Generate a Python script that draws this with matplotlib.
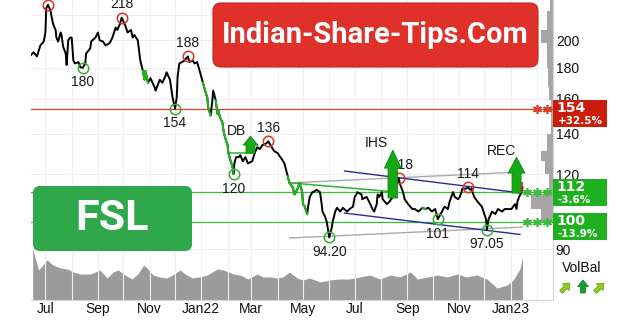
import matplotlib.pyplot as plt
import matplotlib.transforms as mtransforms
from matplotlib.patches import FancyBboxPatch, FancyArrow, Rectangle
from matplotlib.ticker import NullLocator
import pandas as pd

plt.rcParams['font.family'] = ['Liberation Sans', 'DejaVu Sans']

W, H = 640, 324

# ---- price trace ----
dates = [
    "2021-06-14", "2021-06-17", "2021-06-21", "2021-06-25", "2021-06-29", "2021-07-01", "2021-07-02", "2021-07-04",
    "2021-07-07", "2021-07-08", "2021-07-10", "2021-07-13", "2021-07-14", "2021-07-16", "2021-07-19", "2021-07-20",
    "2021-07-22", "2021-07-25", "2021-07-26", "2021-07-28", "2021-07-30", "2021-08-01", "2021-08-03", "2021-08-05",
    "2021-08-09", "2021-08-11", "2021-08-14", "2021-08-17", "2021-08-18", "2021-08-23", "2021-08-24", "2021-08-29",
    "2021-09-01", "2021-09-03", "2021-09-07", "2021-09-10", "2021-09-15", "2021-09-18", "2021-09-22", "2021-09-24",
    "2021-09-27", "2021-09-29", "2021-10-03", "2021-10-06", "2021-10-10", "2021-10-12", "2021-10-14", "2021-10-18",
    "2021-10-21", "2021-10-24", "2021-10-26", "2021-10-27", "2021-10-30", "2021-11-02", "2021-11-07", "2021-11-08",
    "2021-11-13", "2021-11-16", "2021-11-20", "2021-11-21", "2021-11-25", "2021-11-28", "2021-12-01", "2021-12-03",
    "2021-12-04", "2021-12-06", "2021-12-09", "2021-12-12", "2021-12-16", "2021-12-18", "2021-12-22", "2021-12-24",
    "2021-12-27", "2021-12-30", "2022-01-03", "2022-01-06", "2022-01-08", "2022-01-09", "2022-01-12", "2022-01-14",
    "2022-01-15", "2022-01-18", "2022-01-20", "2022-01-21", "2022-01-23", "2022-01-26", "2022-01-27", "2022-01-29",
    "2022-02-01", "2022-02-02", "2022-02-04", "2022-02-07", "2022-02-08", "2022-02-09", "2022-02-11", "2022-02-14",
    "2022-02-16", "2022-02-19", "2022-02-22", "2022-02-25", "2022-03-02", "2022-03-05", "2022-03-08", "2022-03-11",
    "2022-03-14", "2022-03-19", "2022-03-21", "2022-03-25", "2022-03-28", "2022-04-01", "2022-04-06", "2022-04-09",
    "2022-04-13", "2022-04-15", "2022-04-19", "2022-04-21", "2022-04-24", "2022-04-25", "2022-04-27", "2022-04-30",
    "2022-05-01", "2022-05-03", "2022-05-06", "2022-05-07", "2022-05-09", "2022-05-12", "2022-05-13", "2022-05-17",
    "2022-05-21", "2022-05-23", "2022-05-24", "2022-05-27", "2022-05-29", "2022-05-30", "2022-06-01", "2022-06-04",
    "2022-06-05", "2022-06-08", "2022-06-10", "2022-06-14", "2022-06-17", "2022-06-22", "2022-06-25", "2022-06-29",
    "2022-07-01", "2022-07-03", "2022-07-04", "2022-07-09", "2022-07-10", "2022-07-15", "2022-07-18", "2022-07-22",
    "2022-07-24", "2022-07-27", "2022-07-28", "2022-07-30", "2022-08-02", "2022-08-03", "2022-08-08", "2022-08-11",
    "2022-08-15", "2022-08-17", "2022-08-20", "2022-08-22", "2022-08-23", "2022-08-26", "2022-08-27", "2022-08-29",
    "2022-09-02", "2022-09-07", "2022-09-10", "2022-09-14", "2022-09-19", "2022-09-22", "2022-09-26", "2022-09-30",
    "2022-10-04", "2022-10-07", "2022-10-12", "2022-10-15", "2022-10-19", "2022-10-21", "2022-10-24", "2022-10-25",
    "2022-10-27", "2022-10-31", "2022-11-02", "2022-11-04", "2022-11-05", "2022-11-09", "2022-11-12", "2022-11-14",
    "2022-11-16", "2022-11-17", "2022-11-19", "2022-11-23", "2022-11-28", "2022-12-01", "2022-12-03", "2022-12-04",
    "2022-12-06", "2022-12-10", "2022-12-14", "2022-12-17", "2022-12-22", "2022-12-25", "2022-12-29", "2023-01-02",
    "2023-01-06", "2023-01-08", "2023-01-09", "2023-01-11", "2023-01-14", "2023-01-15",
]
close = [
    189, 191, 188, 196, 199, 206, 226, 229,
    224, 220, 213, 208, 202, 199, 206, 204,
    195, 190, 182, 200, 202, 202, 185, 183,
    184, 180.5, 180, 183, 190, 194, 199, 202,
    206, 200, 199, 196, 198, 202, 210, 208,
    213, 218, 212, 206, 208, 202, 204, 200,
    185, 178, 172, 178, 170, 173, 167, 165,
    172, 170, 175, 177, 172, 161, 154, 161,
    174, 183, 184, 185, 188, 184, 185, 183,
    184, 178, 170, 164, 161, 155, 150, 159,
    165, 159, 151, 153, 149, 146, 142, 138,
    134, 130, 127, 123, 120, 125, 128, 128,
    129, 126, 128, 125, 126, 130, 133, 132,
    134, 135, 136, 133, 131, 130, 127, 125,
    119, 116, 114, 111, 113, 114, 116, 112,
    107, 106, 103, 106, 110, 112, 112, 113,
    112, 107, 104, 102, 100, 98, 94.2, 98,
    100, 104, 105.5, 104, 105.5, 104, 105, 106,
    110, 111, 112, 111, 109, 110, 108, 105,
    104, 107, 111, 110, 112, 109, 107, 108,
    110, 113, 116, 118, 116, 113, 112, 109,
    107, 105, 105, 104, 105.5, 105, 105.5, 104,
    105, 101, 104, 106, 105, 108, 111, 112,
    110, 109, 110, 112, 113.5, 113.5, 114, 113,
    113.5, 112, 110, 108, 106, 103, 101, 97.05,
    101, 104, 103, 105, 104, 105, 105, 105,
    107, 105, 108, 110, 112, 114,
]
last_low, last_high = 111.6, 116.5

# stretches where the close line is drawn green
green_runs = [("2021-10-24", "2021-10-30"), ("2022-01-03", "2022-01-12"),
              ("2022-01-18", "2022-02-08"), ("2022-04-13", "2022-05-06"),
              ("2022-09-19", "2022-09-22")]

# turning points
peak_dates = ["2021-07-04", "2021-09-29", "2021-12-16", "2022-03-21", "2022-08-22", "2022-11-12"]
peak_vals = [229, 218, 188, 136, 118, 114]
peak_text = ["", "218", "188", "136", "118", "114"]
trough_dates = ["2021-08-14", "2021-12-01", "2022-02-08", "2022-06-01", "2022-10-07", "2022-12-04"]
trough_vals = [180, 154, 120, 94.2, 101, 97.05]
trough_text = ["180", "154", "120", "94.20", "101", "97.05"]

# volume (bottom area)
vol_dates = [
    "2021-06-16", "2021-06-23", "2021-07-03", "2021-07-10", "2021-07-19", "2021-07-27", "2021-08-03", "2021-08-11",
    "2021-08-23", "2021-08-29", "2021-09-03", "2021-09-12", "2021-09-19", "2021-09-25", "2021-10-03", "2021-10-11",
    "2021-10-18", "2021-10-25", "2021-10-30", "2021-11-05", "2021-11-13", "2021-11-21", "2021-11-28", "2021-12-07",
    "2021-12-13", "2021-12-21", "2021-12-30", "2022-01-08", "2022-01-20", "2022-01-27", "2022-02-08", "2022-02-16",
    "2022-02-25", "2022-03-08", "2022-03-15", "2022-03-23", "2022-03-31", "2022-04-07", "2022-04-15", "2022-04-24",
    "2022-05-01", "2022-05-09", "2022-05-21", "2022-06-02", "2022-06-13", "2022-06-25", "2022-07-07", "2022-07-19",
    "2022-07-31", "2022-08-12", "2022-08-23", "2022-09-05", "2022-09-13", "2022-09-25", "2022-10-07", "2022-10-18",
    "2022-10-30", "2022-11-10", "2022-11-22", "2022-12-04", "2022-12-16", "2022-12-28", "2023-01-04", "2023-01-12",
    "2023-01-15",
]
vol = [
    51, 30, 40, 35, 32, 31, 28, 26,
    26, 28, 30, 22, 28, 30, 25, 21,
    26, 35, 31, 25, 23, 22, 25, 30,
    26, 22, 23, 25, 31, 30, 26, 25,
    21, 26, 23, 23, 22, 23, 28, 22,
    20, 22, 18, 20, 21, 21, 23, 25,
    21, 25, 23, 28, 21, 23, 25, 23,
    26, 23, 25, 21, 12, 15, 20, 31,
    43,
]

# volume-at-price profile on the right edge
vp_lo = [224, 208, 198, 180, 167, 159, 140, 131, 126, 120, 111, 105, 100]
vp_hi = [233, 224, 208, 198, 180, 167, 159, 140, 131, 126, 120, 111, 105]
vp_w = [3, 6, 12, 6, 5, 4, 2, 6, 12, 8, 4, 22, 12]

# trend lines (start, end)
blue_lines = [(("2022-06-19", 121.4), ("2023-01-14", 111.6)),
              (("2022-06-19", 103.4), ("2023-01-12", 95.3))]
grey_lines = [(("2022-04-15", 116.0), ("2023-01-15", 121.0)),
              (("2022-04-15", 94.0), ("2023-01-15", 98.0))]
neck_lines = [(("2022-02-02", 130.2), ("2022-03-02", 130.2)),
              (("2022-04-17", 116.0), ("2022-08-11", 112.3))]

# pattern signals: label, label pos, arrow date, arrow base, arrow tip
signals = [("DB", "2022-02-11", 141.4, "2022-02-28", 130.0, 138.7),
           ("IHS", "2022-07-27", 135.0, "2022-08-15", 109.5, 131.5),
           ("REC", "2022-12-21", 131.0, "2023-01-08", 111.6, 128.0)]

# price levels shown on the right
levels = [154, 112, 100]
level_main = ["154", "112", "100"]
level_pct = ["+32.5%", "-3.6%", "-13.9%"]
level_color = ["#cc1c0c", "#1fb01f", "#1fb01f"]
level_line = ["#d8402a", "#3cbc3c", "#3cbc3c"]
level_stars = [2, 3, 3]

ytick_vals = [90, 120, 140, 160, 180, 200]
xtick_dates = pd.date_range("2021-07-01", "2023-01-01", freq="2MS")
xtick_labels = ["Jul", "Sep", "Nov", "Jan22", "Mar", "May", "Jul", "Sep", "Nov", "Jan23"]

# ---- figure ----
fig = plt.figure(figsize=(W / 100, H / 100), dpi=100)
ax = fig.add_axes([31 / W, 24 / H, 522 / W, 300 / H])
axv = ax.twinx()
ax.set_zorder(axv.get_zorder() + 1)
ax.patch.set_visible(False)

# volume
axv.fill_between(pd.to_datetime(vol_dates), vol, color="#9b9b9b", lw=0)
axv.set_ylim(0, 300)
axv.axis("off")

d = pd.to_datetime(dates)
s = pd.Series(close, index=d)

# grid
for m in pd.date_range("2021-07-01", "2023-02-01", freq="MS"):
    ax.axvline(m, color="#efefef", lw=0.8, zorder=0)
for p in [90, 100, 120, 140, 160, 180, 200, 220]:
    ax.axhline(p, color="#efefef", lw=0.8, zorder=0)

# level lines
for p, c in zip(levels, level_line):
    ax.axhline(p, color=c, lw=0.9, zorder=2)

for (a, pa), (b, pb) in grey_lines:
    ax.plot(pd.to_datetime([a, b]), [pa, pb], color="#aaaaaa", lw=1.0, zorder=2)
for (a, pa), (b, pb) in blue_lines:
    ax.plot(pd.to_datetime([a, b]), [pa, pb], color="#2a2a9c", lw=1.0, zorder=3)
for (a, pa), (b, pb) in neck_lines:
    ax.plot(pd.to_datetime([a, b]), [pa, pb], color="#2cb42c", lw=1.1, zorder=3)

# profile bars hugging the right edge
trans = mtransforms.blended_transform_factory(ax.transAxes, ax.transData)
for lo, hi, w in zip(vp_lo, vp_hi, vp_w):
    ax.add_patch(Rectangle((1 - w / 522, lo), w / 522, hi - lo, transform=trans,
                           fc="#a6a6a6", ec="none", zorder=1))

# close line
ax.plot(d, close, color="black", lw=1.4, zorder=5, solid_joinstyle="round")
for a, b in green_runs:
    seg = s[a:b]
    ax.plot(seg.index, seg.values, color="#1fb81f", lw=1.4, zorder=6)
ax.vlines(d[-1], last_low, last_high, color="#e02020", lw=1.2, zorder=7)

# circles and labels
ax.plot(pd.to_datetime(peak_dates), peak_vals, "o", mfc="none", mec="#d8362a", ms=7.5, mew=1.1, zorder=8)
ax.plot(pd.to_datetime(trough_dates), trough_vals, "o", mfc="none", mec="#39ac39", ms=7.5, mew=1.1, zorder=8)
for t, v, txt in zip(peak_dates, peak_vals, peak_text):
    dx = 2 if txt == "118" else 0
    ax.annotate(txt, (pd.Timestamp(t), v), xytext=(dx, 9.5), textcoords="offset points",
                ha="center", va="center", fontsize=10, color="#1a1a1a", zorder=9)
for t, v, txt in zip(trough_dates, trough_vals, trough_text):
    ax.annotate(txt, (pd.Timestamp(t), v), xytext=(0, -10.5), textcoords="offset points",
                ha="center", va="center", fontsize=10, color="#1a1a1a", zorder=9)

# pattern arrows
arrow_style = {"DB": "simple,head_length=6.5,head_width=10.8,tail_width=6.5",
               "IHS": "simple,head_length=13,head_width=12.2,tail_width=7",
               "REC": "simple,head_length=11.5,head_width=12.2,tail_width=6.5"}
for name, lt, lp, at, base, tip in signals:
    ax.annotate("", xy=(pd.Timestamp(at), tip), xytext=(pd.Timestamp(at), base),
                arrowprops=dict(arrowstyle=arrow_style[name], fc="#14a814", ec="#0c800c",
                                lw=0.5, shrinkA=0, shrinkB=0, mutation_scale=1), zorder=9)
    ax.text(pd.Timestamp(lt), lp, name, ha="center", va="center", fontsize=10, color="#1a1a1a", zorder=9)

# axes
ax.set_yscale("log")
ax.set_ylim(74.2, 233.2)
ax.set_xlim(pd.Timestamp("2021-06-14"), pd.Timestamp("2023-02-20"))
ax.yaxis.tick_right()
ax.set_yticks(ytick_vals, [str(v) for v in ytick_vals])
ax.yaxis.set_minor_locator(NullLocator())
ax.set_xticks(xtick_dates, xtick_labels)
ax.tick_params(axis="both", length=0, labelsize=10, colors="#111111")
ax.tick_params(axis="y", pad=2)
ax.tick_params(axis="x", pad=1.5)
for side in ["left", "top"]:
    ax.spines[side].set_visible(False)
for side in ["right", "bottom"]:
    ax.spines[side].set_color("#d6d6d6")

# ---- overlay in pixel units ----
deco = fig.add_axes([0, 0, 1, 1])
deco.set_xlim(0, W)
deco.set_ylim(H, 0)
deco.axis("off")
deco.set_zorder(20)

deco.add_patch(FancyBboxPatch((213, 3), 325, 64, boxstyle="round,pad=0,rounding_size=8",
                              fc="#e0302a", ec="#c8241c", lw=0.8))
deco.text(375.5, 35, "Indian-Share-Tips.Com", ha="center", va="center", color="white",
          fontsize=21, fontweight="bold", family="Roboto")
deco.add_patch(FancyBboxPatch((33, 186), 159, 65, boxstyle="round,pad=0,rounding_size=7",
                              fc="#2ea84a", ec="none"))
deco.text(112.5, 219, "FSL", ha="center", va="center", color="white",
          fontsize=31, fontweight="bold", family="Roboto")


def level_px(p):
    return H - ax.transData.transform((ax.get_xlim()[0], p))[1]


box_shift = [0, -4, 0]
for p, m, pct, c, lc, n, sh in zip(levels, level_main, level_pct, level_color, level_line,
                                   level_stars, box_shift):
    y0 = level_px(p)
    top = y0 - 9 + sh
    deco.add_patch(Rectangle((553, top), 54, 27, fc=c, ec="none"))
    deco.text(556, top + 8, m, ha="left", va="center", color="white", fontsize=10,
              fontweight="bold", family="DejaVu Sans")
    deco.text(558, top + 21, pct, ha="left", va="center", color="white", fontsize=7.5,
              fontweight="bold", family="DejaVu Sans")
    xs = [547 - 10 * k for k in range(n)]
    deco.plot(xs, [y0] * n, ls="none", marker=(6, 2, 0), ms=6.5, mew=1.2, color=lc)

deco.text(582, 268, "VolBal", ha="center", va="center", fontsize=10, color="#111111")
deco.add_patch(FancyArrow(561, 292, 9, -9, width=4, head_width=9.5, head_length=6,
                          length_includes_head=True, fc="#8fcc1f", ec="#5e9a10", lw=0.5))
deco.add_patch(FancyArrow(583, 293, 0, -13, width=5, head_width=11, head_length=6.5,
                          length_includes_head=True, fc="#13a02c", ec="#0c7a1e", lw=0.5))
deco.add_patch(FancyArrow(595, 292, 9, -9, width=4, head_width=9.5, head_length=6,
                          length_includes_head=True, fc="#8fcc1f", ec="#5e9a10", lw=0.5))

fig.savefig("out.png", dpi=100)
